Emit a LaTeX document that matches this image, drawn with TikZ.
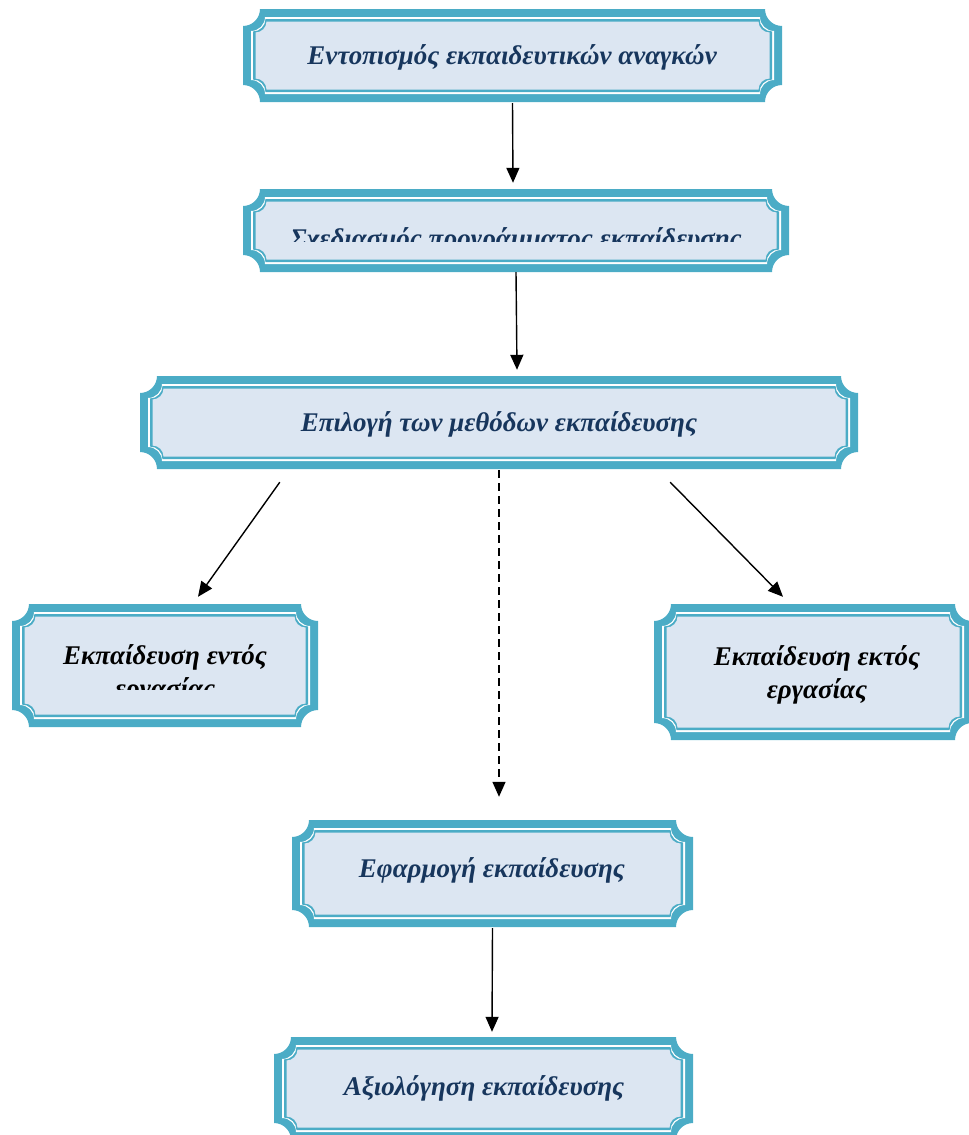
\documentclass[tikz,border=0pt]{standalone}
\usepackage{fontspec}
\setmainfont{Liberation Serif}
\usetikzlibrary{arrows.meta,calc}

\definecolor{plaqueteal}{HTML}{4BACC6}
\definecolor{plaquefill}{HTML}{DCE6F2}
\definecolor{navytext}{HTML}{17365D}

% plaque outline: x1,y1,x2,y2, inset, notch radius (concave corners)
\newcommand\plq[6]{(#1+#5+#6,#2+#5) -- (#3-#5-#6,#2+#5)
  arc[start angle=180,end angle=270,radius=#6pt] -- (#3-#5,#4-#5-#6)
  arc[start angle=90,end angle=180,radius=#6pt] -- (#1+#5+#6,#4-#5)
  arc[start angle=0,end angle=90,radius=#6pt] -- (#1+#5,#2+#5+#6)
  arc[start angle=270,end angle=360,radius=#6pt] -- cycle}

% framed plaque with a named node covering it
\newcommand\plaque[5]{%
  \fill[plaqueteal] \plq{#2}{#3}{#4}{#5}{0}{17};
  \fill[white] \plq{#2}{#3}{#4}{#5}{8}{14};
  \fill[plaqueteal] \plq{#2}{#3}{#4}{#5}{10}{12.5};
  \fill[plaquefill] \plq{#2}{#3}{#4}{#5}{12.5}{11};
  \node[inner sep=0pt,minimum width={#4pt-#2pt},minimum height={#5pt-#3pt}]
    (#1) at ({(#2+#4)/2},{(#3+#5)/2}) {};}

\tikzset{
  label/.style={font=\fontsize{27}{33}\selectfont\bfseries\itshape,
    text=navytext, inner sep=0pt, align=center},
  darklabel/.style={label, text=black},
  arr/.style={line width=1.4pt, -{Triangle[length=15pt,width=13pt]}},
}

\begin{document}
\begin{tikzpicture}[x=1pt,y=-1pt]
\useasboundingbox (0,0) rectangle (969,1135);
\clip (0,0) rectangle (969,1135);

\plaque{b1}{243}{9}{782}{102}
\plaque{b2}{243}{189}{789}{272}
\plaque{b3}{140}{376}{858}{469}
\plaque{b4}{12}{604}{318}{727}
\plaque{b5}{654}{604}{972}{740}
\plaque{b6}{292}{820}{693}{927}
\plaque{b7}{274}{1037}{693}{1140}

\node[label] (t1) at (512,57) {Εντοπισμός εκπαιδευτικών αναγκών};
\begin{scope}
  \clip (243,189) rectangle (789,241);
  \node[label, anchor=base] (t2) at (516,247) {Σχεδιασμός προγράμματος εκπαίδευσης};
\end{scope}
\node[label] (t3) at (499,424) {Επιλογή των μεθόδων εκπαίδευσης};
\begin{scope}
  \clip (12,604) rectangle (318,689);
  \node[darklabel] (t4) at (165,674) {Εκπαίδευση εντός\\εργασίας};
\end{scope}
\node[darklabel] (t5) at (817,675) {Εκπαίδευση εκτός\\εργασίας};
\node[label] (t6) at (492,870) {Εφαρμογή εκπαίδευσης};
\node[label] (t7) at (484,1088) {Αξιολόγηση εκπαίδευσης};

\draw[arr] ($(b1.south)+(0,1)$) -- ($(b2.north)+(-3,-6)$);
\draw[arr] ($(b2.south)+(0,0)$) -- ($(b3.north)+(18,-6)$);
\draw[arr] ($(b3.south west)+(140,13)$) -- ($(b4.north)+(33,-7)$);
\draw[arr, dash pattern=on 8pt off 5pt] ($(b3.south)+(0,1)$) -- ($(b6.north)+(6.5,-23)$);
\draw[arr] ($(b3.south east)+(-188,13)$) -- ($(b5.north)+(-30,-7)$);
\draw[arr] ($(b6.south)+(0,1)$) -- ($(b7.north)+(8.5,-5)$);
\end{tikzpicture}
\end{document}
